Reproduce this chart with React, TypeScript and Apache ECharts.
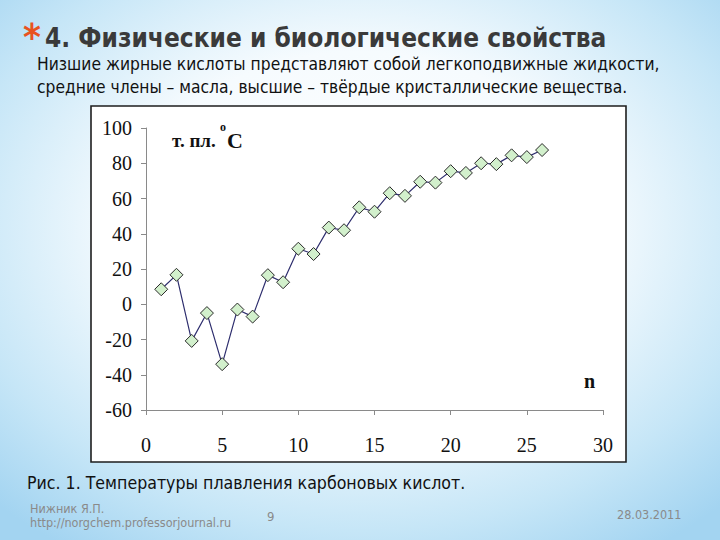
import React, { useEffect, useRef } from "react";
import * as echarts from "echarts";

const carbonNumbers = [1, 2, 3, 4, 5, 6, 7, 8, 9, 10, 11, 12, 13, 14, 15, 16, 17, 18, 19, 20, 21, 22, 23, 24, 25, 26];
const meltingPoints = [8.5, 16.7, -20.8, -5, -34, -3, -7, 16.5, 12.5, 31.5, 28.5, 43.5, 42, 55, 52.5, 63, 61.5, 69.5, 69, 75.5, 74.5, 80, 79.5, 84.5, 83.5, 87.5];
const xTicks = [0, 5, 10, 15, 20, 25, 30];
const yTicks = [-60, -40, -20, 0, 20, 40, 60, 80, 100];

const titleText = "4. Физические и биологические свойства";
const subLine1 = "Низшие жирные кислоты представляют собой легкоподвижные жидкости,";
const subLine2 = "средние члены – масла, высшие – твёрдые кристаллические вещества.";
const captionText = "Рис. 1. Температуры плавления карбоновых кислот.";
const authorText = "Нижник Я.П.";
const urlText = "http://norgchem.professorjournal.ru";
const pageText = "9";
const dateText = "28.03.2011";

const SANS = "'DejaVu Sans Condensed', 'DejaVu Sans', sans-serif";
const SERIF = "'Liberation Serif', 'DejaVu Serif', serif";

export default function App() {
  const ref = useRef<HTMLDivElement>(null);
  useEffect(() => {
    if (!ref.current) return;
    const chart = echarts.init(ref.current, null, { renderer: "svg" });
    const data = carbonNumbers.map((n, i) => [n, meltingPoints[i]]);
    chart.setOption({
      animation: false,
      backgroundColor: "#ffffff",
      grid: { left: 146, right: 117, top: 128, bottom: 130, containLabel: false },
      xAxis: {
        type: "value",
        min: xTicks[0],
        max: xTicks[xTicks.length - 1],
        interval: 5,
        axisLine: { show: true, onZero: false, lineStyle: { color: "#8a8a8a", width: 1 } },
        axisTick: { show: true, inside: false, length: 5, lineStyle: { color: "#8a8a8a" } },
        splitLine: { show: false },
        axisLabel: { color: "#111", fontFamily: SERIF, fontSize: 20, margin: 25 },
      },
      yAxis: {
        type: "value",
        min: yTicks[0],
        max: yTicks[yTicks.length - 1],
        interval: 20,
        axisLine: { show: true, onZero: false, lineStyle: { color: "#8a8a8a", width: 1 } },
        axisTick: { show: true, inside: false, length: 5, lineStyle: { color: "#8a8a8a" } },
        splitLine: { show: false },
        axisLabel: { color: "#111", fontFamily: SERIF, fontSize: 20, margin: 14 },
      },
      series: [
        {
          type: "line",
          data,
          symbol: "diamond",
          symbolSize: 13,
          showSymbol: true,
          lineStyle: { color: "#2e2e6e", width: 1.2 },
          itemStyle: { color: "#d2f0cc", borderColor: "#2a2a2a", borderWidth: 1 },
          z: 5,
        },
      ],
      graphic: [
        {
          type: "rect",
          z: -20,
          shape: { x: 0, y: 0, width: 720, height: 540 },
          style: {
            fill: new echarts.graphic.RadialGradient(0.5, 0.42, 0.72, [
              { offset: 0, color: "#ffffff" },
              { offset: 0.45, color: "#f6fbfe" },
              { offset: 0.78, color: "#c6e6f7" },
              { offset: 1, color: "#a3d4f1" },
            ]),
          },
        },
        {
          type: "rect",
          z: -10,
          shape: { x: 91, y: 106, width: 535, height: 356 },
          style: { fill: "#ffffff", stroke: "#1e1e1e", lineWidth: 1.6 },
        },
        {
          type: "text",
          z: 10,
          x: 23,
          y: 18,
          style: { text: "*", fill: "#e8531f", font: `bold 38px ${SANS}` },
        },
        {
          type: "text",
          z: 10,
          x: 45,
          y: 25,
          style: { text: titleText, fill: "#3a3a3a", font: `bold 26px ${SANS}` },
        },
        {
          type: "text",
          z: 10,
          x: 37,
          y: 55,
          style: { text: subLine1, fill: "#111111", font: `17.3px ${SANS}` },
        },
        {
          type: "text",
          z: 10,
          x: 37,
          y: 78,
          style: { text: subLine2, fill: "#111111", font: `17.3px ${SANS}` },
        },
        {
          type: "text",
          z: 10,
          x: 172,
          y: 131,
          style: { text: "т. пл.", fill: "#111", font: `bold 19px ${SERIF}` },
        },
        {
          type: "text",
          z: 10,
          x: 220,
          y: 121,
          style: { text: "o", fill: "#111", font: `bold 12px ${SERIF}` },
        },
        {
          type: "text",
          z: 10,
          x: 227,
          y: 129,
          style: { text: "C", fill: "#111", font: `bold 22px ${SERIF}` },
        },
        {
          type: "text",
          z: 10,
          x: 584,
          y: 371,
          style: { text: "n", fill: "#111", font: `bold 20px ${SERIF}` },
        },
        {
          type: "text",
          z: 10,
          x: 27,
          y: 474,
          style: { text: captionText, fill: "#111111", font: `17.6px ${SANS}` },
        },
        {
          type: "text",
          z: 10,
          x: 30,
          y: 502,
          style: { text: authorText, fill: "#8a8a8a", font: `12.5px ${SANS}` },
        },
        {
          type: "text",
          z: 10,
          x: 30,
          y: 516,
          style: { text: urlText, fill: "#8a8a8a", font: `12.5px ${SANS}` },
        },
        {
          type: "text",
          z: 10,
          x: 267,
          y: 510,
          style: { text: pageText, fill: "#8a8a8a", font: `13px ${SANS}` },
        },
        {
          type: "text",
          z: 10,
          x: 617,
          y: 508,
          style: { text: dateText, fill: "#8a8a8a", font: `12.5px ${SANS}` },
        },
      ],
    });
    return () => chart.dispose();
  }, []);
  return (
    <div
      ref={ref}
      style={{ position: "fixed", left: 0, top: 0, width: 720, height: 540 }}
    />
  );
}
